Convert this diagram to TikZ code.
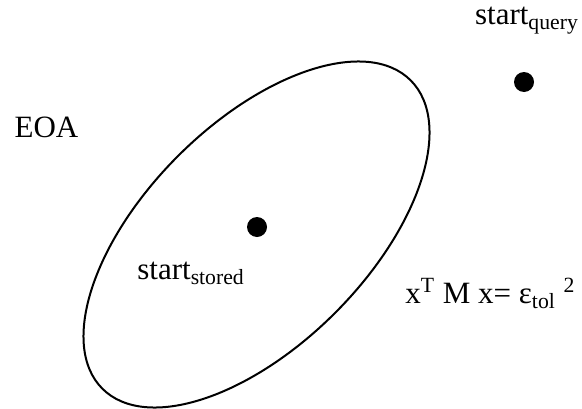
\documentclass[tikz,border=0pt]{standalone}
\usepackage{fontspec}
\setmainfont{Liberation Serif}
\usepackage{tikz}

\begin{document}
\begin{tikzpicture}[x=0.5pt,y=0.5pt,
  lbl/.style={font=\fontsize{15.5}{18}\selectfont,inner sep=0pt},
  dot/.style={circle,fill=black,minimum size=10pt,inner sep=0pt}]
  \useasboundingbox (0,0) rectangle (582,408);
  % region and its centre
  \draw[line width=1pt,rotate around={45:(256.5,173.5)}] (256.5,173.5) ellipse (218 and 111);
  \node[dot] (stored) at (257,181) {};
  \node[dot] (query) at (524,326) {};
  % labels
  \node[lbl,anchor=base] (querylbl) at (527,383) {start\textsubscript{query}};
  \node[lbl,anchor=base] (eoa) at (46.5,271) {EOA};
  \node[lbl,anchor=base west] (storedlbl) at (137,129) {start\textsubscript{stored}};
  \node[lbl,anchor=base west] (formula) at (405,105)
    {x\textsuperscript{T} M x= ε\textsubscript{tol} \textsuperscript{2}};
\end{tikzpicture}
\end{document}
